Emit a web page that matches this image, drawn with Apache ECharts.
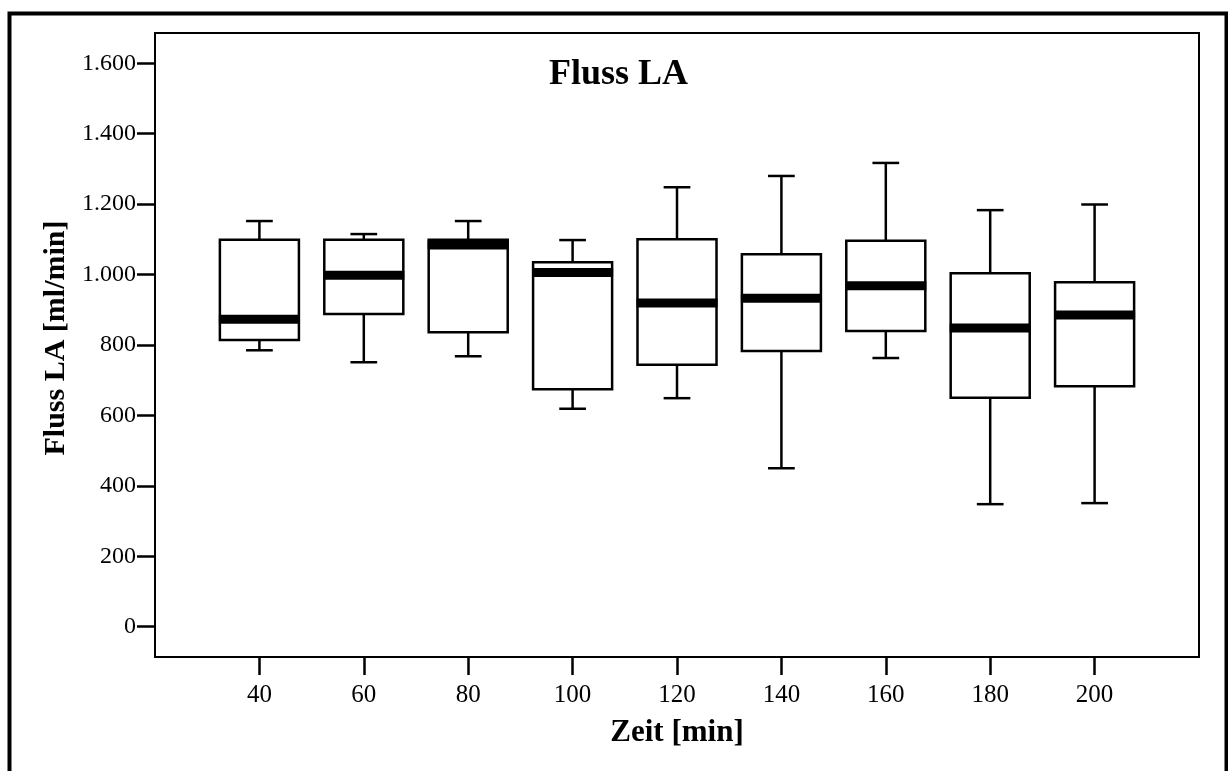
<!DOCTYPE html>
<html>
<head>
<meta charset="utf-8">
<script src="https://cdn.jsdelivr.net/npm/echarts@6/dist/echarts.min.js"></script>
<style>
html,body{margin:0;padding:0;background:#fff;}
#chart{width:1228px;height:771px;}
</style>
</head>
<body>
<div id="chart"></div>
<script>
// ---- data ----
const timeLabels = ['40', '60', '80', '100', '120', '140', '160', '180', '200'];
const whiskerLow  = [785, 751, 768, 619, 649, 450, 763, 348, 351];
const q1          = [814, 888, 836, 674, 744, 783, 840, 650, 683];
const median      = [873, 998, 1084, 1006, 919, 933, 968, 848, 885];
const q3          = [1099, 1099, 1099, 1035, 1100, 1058, 1096, 1004, 978];
const whiskerHigh = [1152, 1115, 1152, 1098, 1248, 1280, 1317, 1183, 1199];
const yTicks = [0, 200, 400, 600, 800, 1000, 1200, 1400, 1600];

// category axis padded with an empty slot on each side
const axisCats = [''].concat(timeLabels, ['']);
const boxData = timeLabels.map((t, i) => [i + 1, whiskerLow[i], q1[i], median[i], q3[i], whiskerHigh[i]]);

const FONT = '"Liberation Serif", "Times New Roman", serif';

function renderBox(params, api) {
  const x = api.value(0);
  const lo = api.coord([x, api.value(1)]);
  const b1 = api.coord([x, api.value(2)]);
  const md = api.coord([x, api.value(3)]);
  const b3 = api.coord([x, api.value(4)]);
  const hi = api.coord([x, api.value(5)]);
  const band = api.size([1, 0])[0];
  const bw = band * 0.757;
  const cw = band * 0.256;
  const cx = lo[0];
  const lineStyle = { stroke: '#000', lineWidth: 2.5, fill: null };
  return {
    type: 'group',
    children: [
      { type: 'line', shape: { x1: cx, y1: b3[1], x2: cx, y2: hi[1] }, style: lineStyle },
      { type: 'line', shape: { x1: cx - cw / 2, y1: hi[1], x2: cx + cw / 2, y2: hi[1] }, style: lineStyle },
      { type: 'line', shape: { x1: cx, y1: b1[1], x2: cx, y2: lo[1] }, style: lineStyle },
      { type: 'line', shape: { x1: cx - cw / 2, y1: lo[1], x2: cx + cw / 2, y2: lo[1] }, style: lineStyle },
      { type: 'rect', shape: { x: cx - bw / 2, y: b3[1], width: bw, height: b1[1] - b3[1] },
        style: { fill: '#fff', stroke: '#000', lineWidth: 2.5 } },
      { type: 'rect', shape: { x: cx - bw / 2 - 1, y: md[1] - 4.5, width: bw + 2, height: 9 },
        style: { fill: '#000' } }
    ]
  };
}

const chart = echarts.init(document.getElementById('chart'), null, { renderer: 'canvas' });
chart.setOption({
  animation: false,
  backgroundColor: '#fff',
  title: {
    text: 'Fluss LA',
    left: 544,
    top: 52,
    textStyle: { fontFamily: FONT, fontSize: 36, fontWeight: 'bold', color: '#000' }
  },
  graphic: [{
    type: 'rect',
    shape: { x: 9.5, y: 13.5, width: 1217, height: 800 },
    style: { fill: null, stroke: '#000', lineWidth: 4 },
    silent: true
  }],
  grid: {
    left: 155, top: 33, right: 29, bottom: 114,
    show: true, borderColor: '#000', borderWidth: 2, backgroundColor: 'transparent'
  },
  xAxis: {
    type: 'category',
    data: axisCats,
    boundaryGap: false,
    name: 'Zeit [min]',
    nameLocation: 'middle',
    nameGap: 60,
    nameTextStyle: { fontFamily: FONT, fontSize: 31, fontWeight: 'bold', color: '#000' },
    axisLine: { onZero: false, lineStyle: { color: '#000', width: 2 } },
    axisTick: {
      length: 18,
      lineStyle: { color: '#000', width: 2.5 },
      interval: (idx) => idx > 0 && idx < axisCats.length - 1
    },
    axisLabel: {
      interval: (idx) => idx > 0 && idx < axisCats.length - 1,
      margin: 26,
      fontFamily: FONT, fontSize: 25, color: '#000'
    },
    splitLine: { show: false }
  },
  yAxis: {
    type: 'value',
    min: -86,
    max: 1686,
    name: 'Fluss LA [ml/min]',
    nameLocation: 'middle',
    nameGap: 84,
    nameRotate: 90,
    nameTextStyle: { fontFamily: FONT, fontSize: 30, fontWeight: 'bold', color: '#000', padding: [0, 0, 0, 14] },
    axisLine: { show: true, lineStyle: { color: '#000', width: 2 } },
    axisTick: { show: true, length: 18, customValues: yTicks, lineStyle: { color: '#000', width: 2.5 } },
    axisLabel: {
      customValues: yTicks,
      margin: 19,
      fontFamily: FONT, fontSize: 24, color: '#000',
      formatter: (v) => String(v).replace(/\B(?=(\d{3})+(?!\d))/g, '.')
    },
    splitLine: { show: false }
  },
  series: [{
    type: 'custom',
    renderItem: renderBox,
    encode: { x: 0, y: [1, 2, 3, 4, 5] },
    data: boxData,
    clip: false
  }]
});
</script>
</body>
</html>
